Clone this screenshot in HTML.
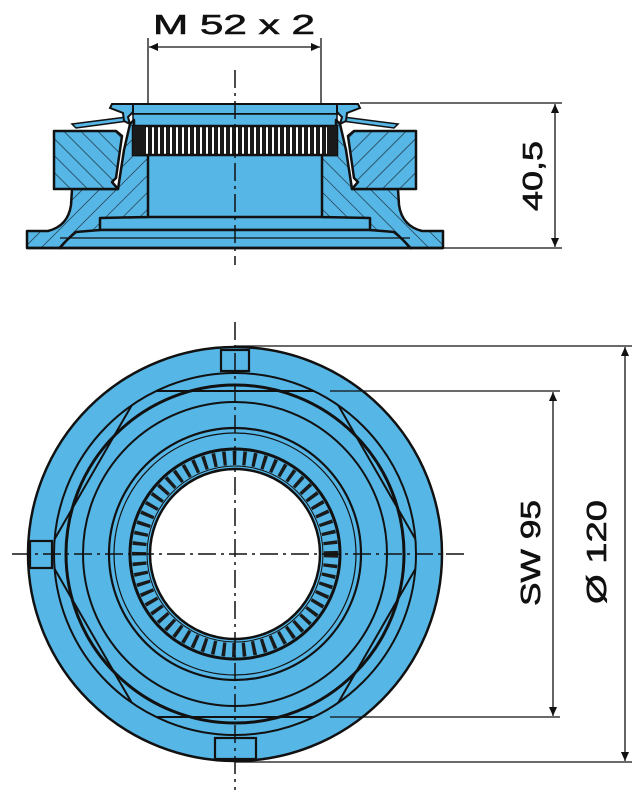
<!DOCTYPE html>
<html><head><meta charset="utf-8"><style>
html,body{margin:0;padding:0;background:#fff;}
svg{display:block;}
text{font-family:"Liberation Sans",Arial,sans-serif;fill:#111;stroke:#111;stroke-width:0.6;}
</style></head><body>
<svg width="640" height="791" viewBox="0 0 640 791" xmlns="http://www.w3.org/2000/svg">
<defs>
<pattern id="h1" width="12" height="12" patternUnits="userSpaceOnUse" patternTransform="rotate(45)">
<rect width="12" height="12" fill="#56b6e6"/><line x1="0" y1="0" x2="0" y2="12" stroke="#1a2a35" stroke-width="1.3"/></pattern>
<pattern id="h2" width="12" height="12" patternUnits="userSpaceOnUse" patternTransform="rotate(-45)">
<rect width="12" height="12" fill="#56b6e6"/><line x1="0" y1="0" x2="0" y2="12" stroke="#1a2a35" stroke-width="1.3"/></pattern>
<marker id="ar" viewBox="0 0 10 10" refX="10" refY="5" markerWidth="17" markerHeight="9" markerUnits="userSpaceOnUse" orient="auto-start-reverse">
<path d="M0,0.5 L10,5 L0,9.5 z" fill="#111"/></marker>
<clipPath id="cc"><circle cx="235" cy="554" r="181"/></clipPath>
<g id="half">
<path d="M27,231 L48,231 Q68,226 71,205 L72,189 L118,189 L124,150 L130,124 L134,120 L134,155 L148,155 L148,217 L100,218 L100,230 L76,232 Q66,240 60,248 L27,248 Z" fill="url(#h1)" stroke="#111" stroke-width="2.5" stroke-linejoin="round"/>
<path d="M54,131 L116,131 L122,136 L116,178 L112,182 L118,189 L54,189 Z" fill="url(#h2)" stroke="#111" stroke-width="2.5" stroke-linejoin="round"/>
<path d="M72,124 L127,117 L128,121 L76,128 Z" fill="#56b6e6" stroke="#111" stroke-width="1.5"/>
<path d="M112,104 L133,104 L133,112 L128,117 L130,124 L124,121 L123,113 L110,108 Z" fill="#56b6e6" stroke="#111" stroke-width="2"/>
</g>
<pattern id="tooth" width="6" height="30" patternUnits="userSpaceOnUse">
<rect width="6" height="30" fill="#1a1a1a"/><rect x="2" y="0" width="2" height="30" fill="#fff"/></pattern>
</defs>

<rect x="133" y="104" width="204" height="10" fill="#56b6e6" stroke="#111" stroke-width="2"/>
<rect x="133" y="114" width="204" height="13" fill="#56b6e6" stroke="#111" stroke-width="1.5"/>
<rect x="146" y="154" width="178" height="64" fill="#56b6e6" stroke="#111" stroke-width="2.5"/>
<rect x="98" y="217" width="274" height="13" fill="#56b6e6" stroke="#111" stroke-width="2.5"/>
<path d="M60,248 Q68,232 80,230 L390,230 Q402,232 410,248 Z" fill="#56b6e6" stroke="#111" stroke-width="2.5"/>
<use href="#half"/>
<use href="#half" transform="translate(470,0) scale(-1,1)"/>
<line x1="27" y1="248" x2="443" y2="248" stroke="#111" stroke-width="2.5"/>
<line x1="60" y1="238" x2="410" y2="238" stroke="#111" stroke-width="1.2"/>
<rect x="133" y="126" width="204" height="29" fill="url(#tooth)" stroke="#111" stroke-width="2.5"/>
<rect x="133" y="126" width="10" height="29" fill="#1a1a1a"/>
<rect x="327" y="126" width="10" height="29" fill="#1a1a1a"/>

<line x1="148" y1="38" x2="148" y2="104" stroke="#111" stroke-width="1.3"/>
<line x1="321" y1="38" x2="321" y2="104" stroke="#111" stroke-width="1.3"/>
<line x1="149" y1="47" x2="320" y2="47" stroke="#111" stroke-width="1.3" marker-start="url(#ar)" marker-end="url(#ar)"/>
<text x="153" y="34" font-size="28" textLength="162" lengthAdjust="spacingAndGlyphs">M 52 x 2</text>
<line x1="360" y1="103" x2="562" y2="103" stroke="#111" stroke-width="1.3"/>
<line x1="443" y1="248" x2="562" y2="248" stroke="#111" stroke-width="1.3"/>
<line x1="555" y1="104" x2="555" y2="247" stroke="#111" stroke-width="1.3" marker-start="url(#ar)" marker-end="url(#ar)"/>
<text transform="translate(542,211) rotate(-90)" font-size="28" textLength="70" lengthAdjust="spacingAndGlyphs">40,5</text>

<circle cx="235" cy="554" r="207" fill="#56b6e6" stroke="#111" stroke-width="2.5"/>
<circle cx="235" cy="554" r="181" fill="none" stroke="#111" stroke-width="2"/>
<polygon clip-path="url(#cc)" points="46,554 140,391 330,391 424,554 330,717 140,717" fill="none" stroke="#111" stroke-width="2"/>
<circle cx="235" cy="554" r="169" fill="none" stroke="#111" stroke-width="3"/>
<circle cx="235" cy="554" r="152" fill="none" stroke="#111" stroke-width="2"/>
<circle cx="235" cy="554" r="126" fill="none" stroke="#111" stroke-width="2.2"/>
<circle cx="235" cy="554" r="121" fill="none" stroke="#111" stroke-width="1.2"/>
<circle cx="235" cy="554" r="105" fill="none" stroke="#111" stroke-width="3"/>
<circle cx="235" cy="554" r="96" fill="none" stroke="#1a1a1a" stroke-width="14" stroke-dasharray="3.5 6.5"/>
<circle cx="235" cy="554" r="88" fill="none" stroke="#111" stroke-width="1"/>
<circle cx="235" cy="554" r="85" fill="#fff" stroke="#111" stroke-width="2.5"/>
<rect x="221" y="350" width="28" height="21" fill="#56b6e6" stroke="#111" stroke-width="2.2"/>
<rect x="30" y="541" width="22" height="27" fill="#56b6e6" stroke="#111" stroke-width="2.2"/>
<rect x="215" y="738" width="41" height="21" fill="#56b6e6" stroke="#111" stroke-width="2.2"/>

<line x1="235" y1="70" x2="235" y2="265" stroke="#111" stroke-width="1.5" stroke-dasharray="18 5 3 5"/>
<line x1="235" y1="322" x2="235" y2="790" stroke="#111" stroke-width="1.5" stroke-dasharray="18 5 3 5"/>
<line x1="12" y1="554" x2="465" y2="554" stroke="#111" stroke-width="1.5" stroke-dasharray="18 5 3 5"/>

<line x1="235" y1="346" x2="632" y2="346" stroke="#111" stroke-width="1.3"/>
<line x1="330" y1="391" x2="560" y2="391" stroke="#111" stroke-width="1.3"/>
<line x1="330" y1="717" x2="560" y2="717" stroke="#111" stroke-width="1.3"/>
<line x1="235" y1="762" x2="632" y2="762" stroke="#111" stroke-width="1.3"/>
<line x1="553" y1="392" x2="553" y2="716" stroke="#111" stroke-width="1.3" marker-start="url(#ar)" marker-end="url(#ar)"/>
<line x1="625" y1="347" x2="625" y2="761" stroke="#111" stroke-width="1.3" marker-start="url(#ar)" marker-end="url(#ar)"/>
<text transform="translate(540,606) rotate(-90)" font-size="28" textLength="106" lengthAdjust="spacingAndGlyphs">SW 95</text>
<text transform="translate(606,604) rotate(-90)" font-size="28" textLength="104" lengthAdjust="spacingAndGlyphs">Ø 120</text>
</svg>
</body></html>
